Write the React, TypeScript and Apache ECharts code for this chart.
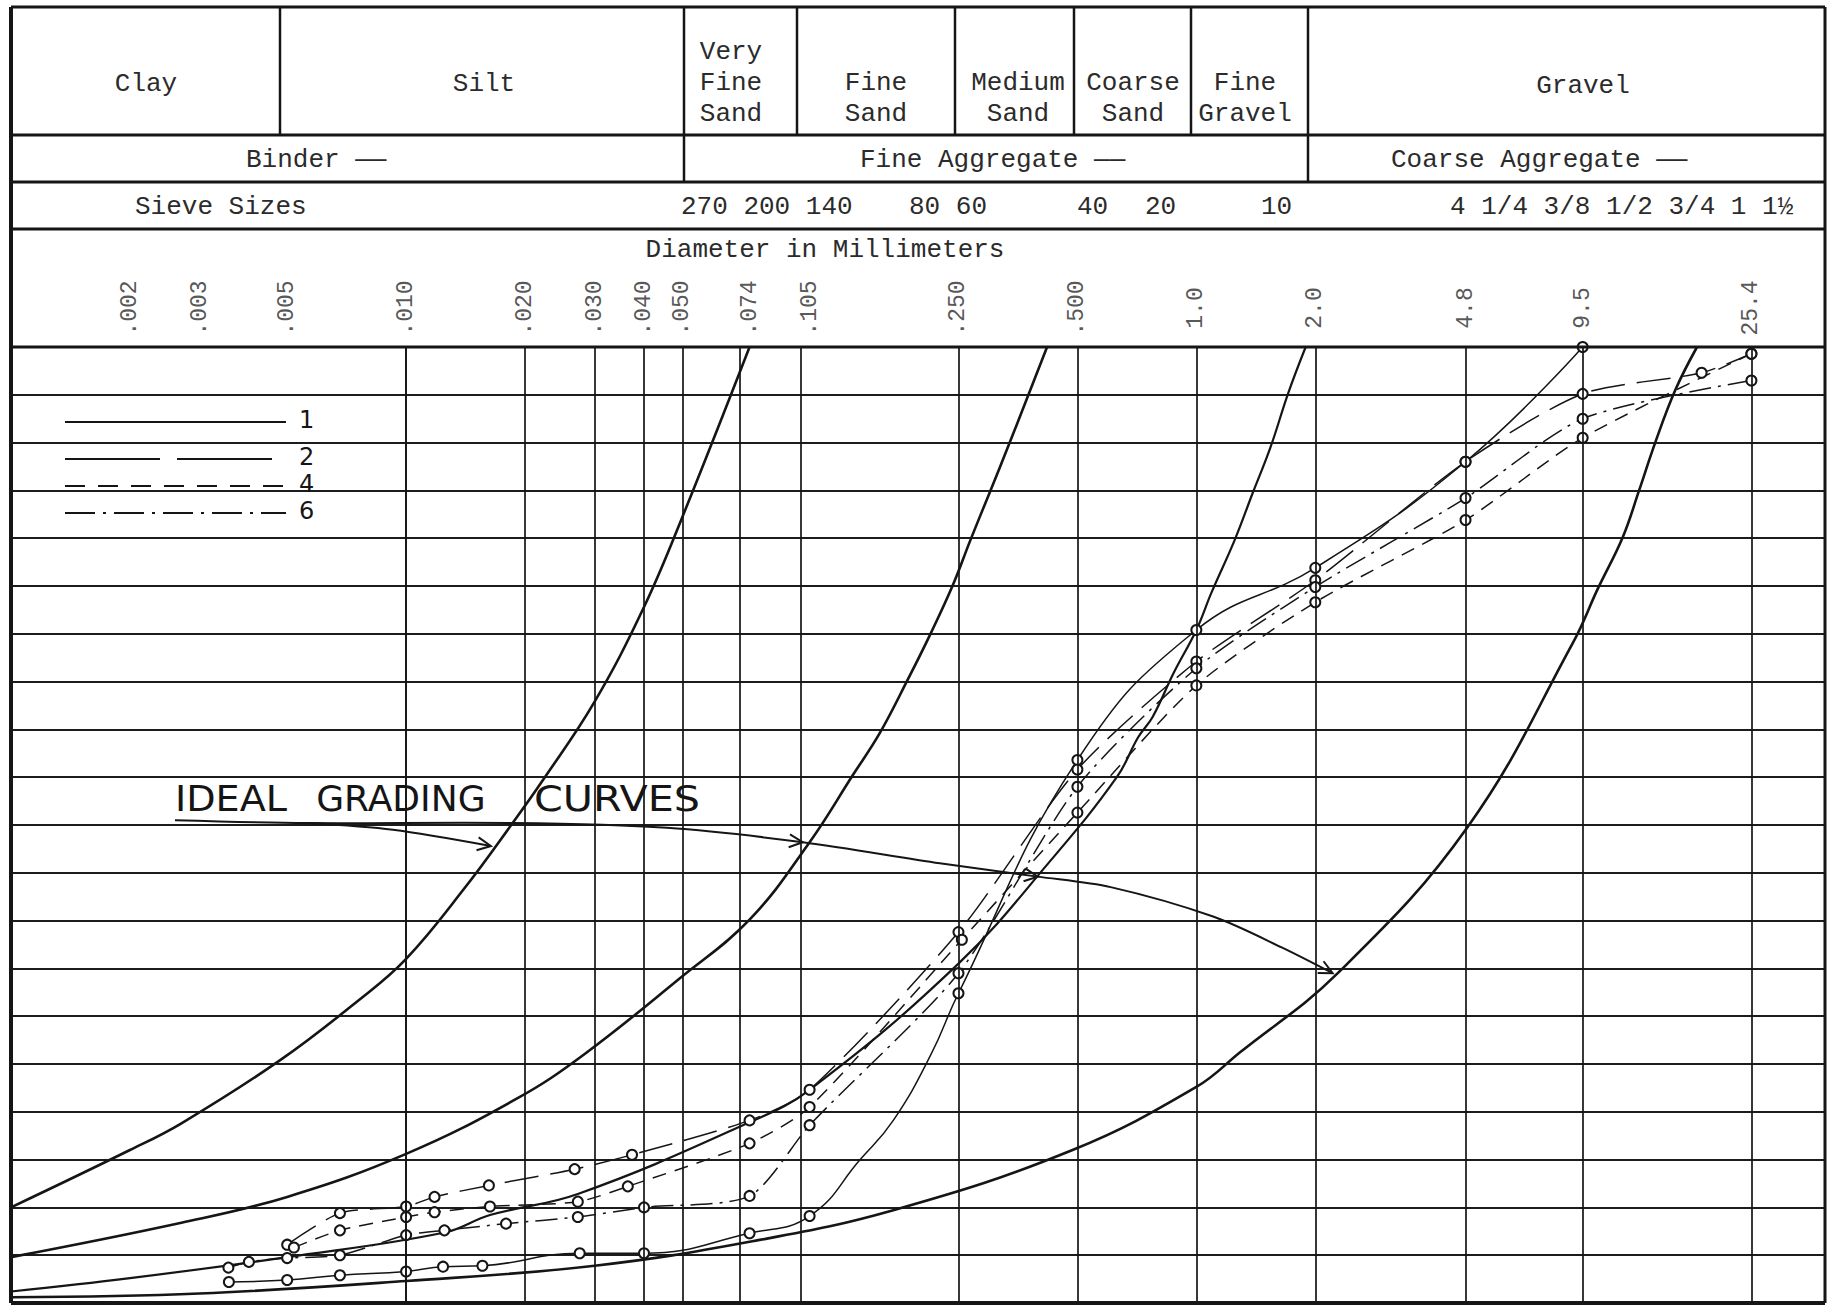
import React, { useEffect, useRef } from "react";
import * as echarts from "echarts";

// ---------- axis / tick data ----------
const DIAMETERS = [0.002, 0.003, 0.005, 0.01, 0.02, 0.03, 0.04, 0.05, 0.074, 0.105, 0.25, 0.5, 1.0, 2.0, 4.8, 9.5, 25.4];
const DIAMETER_LABELS = [".002", ".003", ".005", ".010", ".020", ".030", ".040", ".050", ".074", ".105", ".250", ".500", "1.0", "2.0", "4.8", "9.5", "25.4"];

// ---------- ideal grading curves (diameter mm, percent passing) ----------
const IDEAL_A: [number, number][] = [[0.001, 10.0], [0.002, 16.0], [0.0027, 18.8], [0.0048, 25.4], [0.0076, 31.7], [0.01, 36.0], [0.014, 43.3], [0.0186, 50.2], [0.0222, 54.7], [0.03, 62.9], [0.04, 72.8], [0.05, 82.2], [0.074, 100]];
const IDEAL_B: [number, number][] = [[0.001, 4.8], [0.0027, 8.4], [0.005, 11.1], [0.01, 15.6], [0.0191, 21.4], [0.0282, 26.0], [0.0494, 34.0], [0.074, 40.1], [0.105, 48.2], [0.135, 55.2], [0.158, 59.6], [0.186, 65.2], [0.213, 70.1], [0.242, 75.1], [0.268, 79.8], [0.298, 84.5], [0.337, 90.0], [0.419, 100]];
const IDEAL_D: [number, number][] = [[0.001, 1.2], [0.002, 2.6], [0.005, 4.8], [0.0126, 7.4], [0.0163, 9.2], [0.0272, 11.4], [0.074, 18.9], [0.105, 22.3], [0.25, 35.5], [0.428, 46.3], [0.629, 55.0], [0.713, 59.2], [0.775, 61.3], [0.876, 65.9], [1.0, 70.4], [1.092, 74.3], [1.25, 79.8], [1.388, 84.7], [1.54, 89.5], [1.709, 95.2], [1.891, 100]];
const IDEAL_C: [number, number][] = [[0.001, 0.6], [0.003, 1.0], [0.01, 2.3], [0.03, 3.9], [0.074, 6.4], [0.171, 9.7], [0.486, 16.0], [1.0, 22.6], [1.288, 26.2], [2.28, 34.5], [4.86, 49.8], [8.96, 69.0], [10.4, 74.8], [12.0, 80.1], [13.2, 85.0], [14.5, 90.0], [16.3, 95.5], [18.5, 100]];

// ---------- sample gradings (a 3rd slot = curve point without a plotted circle) ----------
const SAMPLE_1: [number, number, number?][] = [[0.00356, 2.2], [0.005, 2.4], [0.0068, 2.9], [0.01, 3.3], [0.0124, 3.8], [0.0156, 3.9], [0.0275, 5.2], [0.04, 5.2], [0.074, 7.3], [0.105, 9.1], [0.141, 15.0, 0], [0.171, 19.1, 0], [0.213, 26.0, 0], [0.25, 32.4], [0.5, 56.8], [1.0, 70.4], [2.0, 76.9], [4.8, 88.0], [9.5, 100]];
const SAMPLE_2: [number, number, number?][] = [[0.005, 6.1], [0.0068, 9.4], [0.01, 10.1], [0.0118, 11.1], [0.0162, 12.3], [0.0267, 14.0], [0.0373, 15.5], [0.074, 19.1], [0.105, 22.3], [0.25, 38.8], [0.5, 55.8], [1.0, 67.1], [2.0, 75.6], [4.8, 88.0], [9.5, 95.1], [19.0, 97.3], [25.4, 99.3]];
const SAMPLE_4: [number, number, number?][] = [[0.0052, 5.8], [0.0068, 7.6], [0.01, 9.0], [0.0118, 9.5], [0.0163, 10.1], [0.0272, 10.6], [0.0364, 12.2], [0.074, 16.7], [0.105, 20.5], [0.255, 38.0], [0.5, 51.3], [1.0, 64.6], [2.0, 73.3], [4.8, 81.9], [9.5, 90.5], [25.4, 99.3]];
const SAMPLE_6: [number, number, number?][] = [[0.00355, 3.7], [0.004, 4.3], [0.005, 4.7], [0.0068, 5.0], [0.01, 7.1], [0.0125, 7.6], [0.0179, 8.3], [0.0272, 9.0], [0.04, 10.0], [0.074, 11.2], [0.105, 18.6], [0.25, 34.5], [0.5, 54.0], [1.0, 66.4], [2.0, 74.9], [4.8, 84.2], [9.5, 92.5], [25.4, 96.5]];

const SAMPLE_NAMES = ["1", "2", "4", "6"];

// ---------- annotation path (data coords) ----------
const ANNOT_MAIN: [number, number][] = [[0.0026, 50.5], [0.00561, 50.2], [0.01863, 50.2], [0.0457, 49.7], [0.1009, 48.2], [0.2242, 46.0], [0.397, 44.6], [0.607, 43.5], [1.107, 40.4], [1.644, 37.2], [2.213, 34.5]];
const ANNOT_ARROWS = [4, 6, 10];
const ANNOT_BRANCH: [number, number][] = [[0.00561, 50.2], [0.00926, 49.5], [0.01639, 47.8]];
const ANNOT_WORDS = ["IDEAL", "GRADING", "CURVES"];
const ANNOT_WORD_POS: [number, number][] = [[0.0026, 50.9], [0.00592, 50.9], [0.02106, 50.9]];
const ANNOT_WORD_STRETCH = [1.09, 1.03, 1.18];

// ---------- header table ----------
const SOIL_CLASSES = ["Clay", "Silt", "Very\nFine\nSand", "Fine\nSand", "Medium\nSand", "Coarse\nSand", "Fine\nGravel", "Gravel"];
const AGGREGATE_CLASSES = ["Binder ——", "Fine Aggregate ——", "Coarse Aggregate ——"];
const SIEVE_TEXTS = ["Sieve Sizes", "270 200 140", "80 60", "40", "20", "10", "4 1/4 3/8 1/2 3/4 1 1½"];

const INK = "#151515";
const TYPE = "#2b2b2b";
const MONO = "'Liberation Mono', 'DejaVu Sans Mono', monospace";
const SANS = "'DejaVu Sans', 'Liberation Sans', sans-serif";

function arrowHead(tip: number[], from: number[], len = 15, ang = 0.45) {
  const a = Math.atan2(tip[1] - from[1], tip[0] - from[0]);
  const p1 = [tip[0] - len * Math.cos(a - ang), tip[1] - len * Math.sin(a - ang)];
  const p2 = [tip[0] - len * Math.cos(a + ang), tip[1] - len * Math.sin(a + ang)];
  return {
    type: "polyline",
    z: 20,
    shape: { points: [p1, tip, p2] },
    style: { stroke: INK, lineWidth: 2, fill: null },
  };
}

export default function App() {
  const ref = useRef<HTMLDivElement>(null);

  useEffect(() => {
    if (!ref.current) return;
    const chart = echarts.init(ref.current, null, { renderer: "svg" });

    const lineSeries = (data: [number, number][], width: number) => ({
      type: "line",
      xAxisIndex: 0,
      yAxisIndex: 0,
      data,
      smooth: 0.4,
      symbol: "none",
      lineStyle: { color: INK, width },
      silent: true,
      z: 3,
    });

    const sampleSeries = (name: string, data: [number, number, number?][], dash: any, smooth = 0.25) => ({
      type: "line",
      name,
      xAxisIndex: 0,
      yAxisIndex: 0,
      data: data.map((p) => (p.length > 2 ? { value: [p[0], p[1]], symbol: "none" } : { value: [p[0], p[1]] })),
      smooth,
      symbol: "emptyCircle",
      symbolSize: 10,
      showAllSymbol: true,
      itemStyle: { color: INK, borderWidth: 1.6 },
      lineStyle: { color: INK, width: 1.5, type: dash },
      silent: true,
      z: 4,
    });

    const option: any = {
      animation: false,
      backgroundColor: "#ffffff",
      grid: [
        { left: 11, right: 2, top: 347, bottom: 8, show: false },
        { left: 11, right: 2, top: 268, height: 80, show: false },
      ],
      xAxis: [
        { type: "log", gridIndex: 0, min: 0.001, max: 39, logBase: 10, axisLine: { show: false }, axisTick: { show: false }, axisLabel: { show: false }, splitLine: { show: false } },
        { type: "log", gridIndex: 1, min: 0.001, max: 39, logBase: 10, show: false },
      ],
      yAxis: [
        {
          type: "value", gridIndex: 0, min: 0, max: 100, interval: 5,
          axisLine: { show: false }, axisTick: { show: false }, axisLabel: { show: false },
          splitLine: { show: true, lineStyle: { color: "#1c1c1c", width: 1.8 } },
        },
        { type: "value", gridIndex: 1, min: 0, max: 1, show: false },
      ],
      series: [
        {
          type: "line",
          xAxisIndex: 0,
          yAxisIndex: 0,
          data: DIAMETERS.map((d) => [d, 0]),
          symbol: "none",
          lineStyle: { width: 0, opacity: 0 },
          silent: true,
          markLine: {
            silent: true,
            symbol: ["none", "none"],
            label: { show: false },
            lineStyle: { color: INK, width: 1.7, type: "solid" },
            data: DIAMETERS.map((d) => ({ xAxis: d })),
          },
          z: 1,
        },
        {
          type: "scatter",
          xAxisIndex: 1,
          yAxisIndex: 1,
          data: DIAMETERS.map((d) => [d, 0.5]),
          symbolSize: 0,
          silent: true,
          label: {
            show: true,
            position: "inside",
            rotate: 90,
            fontFamily: MONO,
            fontSize: 23,
            color: TYPE,
            formatter: (p: any) => DIAMETER_LABELS[p.dataIndex],
          },
        },
        lineSeries(IDEAL_A, 2.6),
        lineSeries(IDEAL_B, 2.6),
        lineSeries(IDEAL_D, 2.2),
        lineSeries(IDEAL_C, 2.6),
        sampleSeries(SAMPLE_NAMES[0], SAMPLE_1, "solid", 0.45),
        sampleSeries(SAMPLE_NAMES[1], SAMPLE_2, [34, 12]),
        sampleSeries(SAMPLE_NAMES[2], SAMPLE_4, [14, 9]),
        sampleSeries(SAMPLE_NAMES[3], SAMPLE_6, [22, 7, 3, 7]),
      ],
    };

    chart.setOption(option);

    // ---------- graphic: header table, legend, annotation ----------
    const g: any[] = [];
    const hline = (x1: number, x2: number, y: number, w = 3) =>
      g.push({ type: "line", z: 10, shape: { x1, y1: y, x2, y2: y }, style: { stroke: INK, lineWidth: w } });
    const vline = (x: number, y1: number, y2: number, w = 2.5) =>
      g.push({ type: "line", z: 10, shape: { x1: x, y1, x2: x, y2 }, style: { stroke: INK, lineWidth: w } });
    const text = (t: string, x: number, y: number, opts: any = {}) =>
      g.push({
        type: "text", z: 11, x, y,
        style: {
          text: t, fill: opts.fill || TYPE, font: opts.font || `26px ${MONO}`,
          textAlign: opts.align || "center", textVerticalAlign: "middle", lineHeight: opts.lineHeight || 31,
        },
      });

    // frame
    hline(11, 1825, 7, 3);
    hline(11, 1825, 135, 3);
    hline(11, 1825, 182, 3);
    hline(11, 1825, 229, 3);
    hline(11, 1825, 347, 3);
    hline(11, 1825, 1303, 4);
    vline(11, 7, 1303, 4);
    vline(1825, 7, 1303, 3);
    // row 1 dividers
    [280, 684, 797, 955, 1074, 1191, 1308].forEach((x) => vline(x, 7, 135));
    // row 2 dividers
    [684, 1308].forEach((x) => vline(x, 135, 182));

    // row 1 texts
    const soilX = [146, 484, 731, 876, 1018, 1133, 1245, 1583];
    const soilY = [84, 84, 83, 98, 98, 98, 98, 86];
    SOIL_CLASSES.forEach((t, i) => text(t, soilX[i], soilY[i]));
    // row 2 texts
    const aggX = [246, 860, 1391];
    AGGREGATE_CLASSES.forEach((t, i) => text(t, aggX[i], 160, { align: "left" }));
    // row 3 texts
    const sieveX = [135, 681, 909, 1077, 1145, 1261, 1450];
    SIEVE_TEXTS.forEach((t, i) => text(t, sieveX[i], 207, { align: "left" }));
    // diameter caption
    text("Diameter in Millimeters", 825, 250);

    // legend
    const legendY = [422, 459, 486, 513];
    const legendDash: any[] = [null, [95, 17], [20, 13], [30, 8, 3, 8]];
    legendY.forEach((y, i) => {
      g.push({
        type: "line", z: 11,
        shape: { x1: 65, y1: y, x2: 286, y2: y },
        style: { stroke: INK, lineWidth: 1.8, lineDash: legendDash[i] || undefined },
      });
      text(SAMPLE_NAMES[i], 299, y - 2, { align: "left", font: `24px ${SANS}`, fill: INK });
    });

    // annotation
    const toPx = (p: [number, number]) => chart.convertToPixel({ xAxisIndex: 0, yAxisIndex: 0 } as any, p) as number[];
    const mainPx = ANNOT_MAIN.map(toPx);
    const branchPx = ANNOT_BRANCH.map(toPx);
    g.push({ type: "polyline", z: 20, shape: { points: mainPx, smooth: 0.3 }, style: { stroke: INK, lineWidth: 2, fill: null } });
    g.push({ type: "polyline", z: 20, shape: { points: branchPx, smooth: 0.3 }, style: { stroke: INK, lineWidth: 2, fill: null } });
    ANNOT_ARROWS.forEach((i) => g.push(arrowHead(mainPx[i], mainPx[i - 1])));
    g.push(arrowHead(branchPx[branchPx.length - 1], branchPx[branchPx.length - 2]));
    ANNOT_WORDS.forEach((w, i) => {
      const p = toPx(ANNOT_WORD_POS[i]);
      g.push({
        type: "text", z: 21, x: p[0], y: p[1], scaleX: ANNOT_WORD_STRETCH[i],
        style: { text: w, fill: INK, font: `35px ${SANS}`, textAlign: "left", textVerticalAlign: "bottom" },
      });
    });

    chart.setOption({ graphic: g });

    return () => chart.dispose();
  }, []);

  return (
    <div
      ref={ref}
      style={{ position: "absolute", left: 0, top: 0, width: 1827, height: 1311, background: "#fff" }}
    />
  );
}
